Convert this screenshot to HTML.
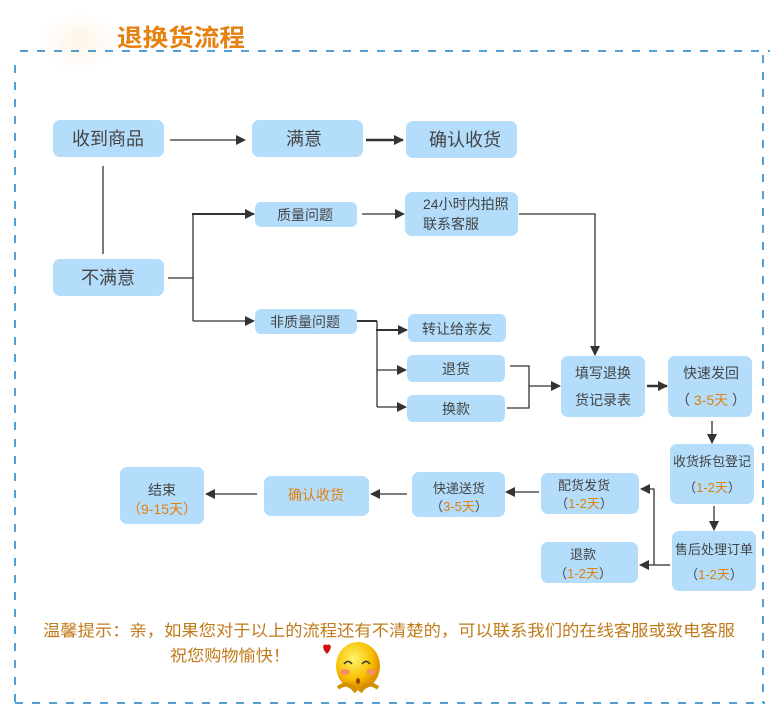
<!DOCTYPE html>
<html><head><meta charset="utf-8"><style>
html,body{margin:0;padding:0;background:#fff;width:780px;height:713px;overflow:hidden}
svg text{font-family:"Liberation Sans","Noto Sans CJK SC",sans-serif}
</style></head><body>
<svg width="780" height="713" viewBox="0 0 780 713" xmlns="http://www.w3.org/2000/svg">
<defs>
<marker id="a" viewBox="0 0 10 10" refX="9" refY="5" markerWidth="10" markerHeight="10" markerUnits="userSpaceOnUse" orient="auto"><path d="M0,0L10,5L0,10z" fill="#333"/></marker>
<radialGradient id="g" cx="0.5" cy="0.5" r="0.5"><stop offset="0" stop-color="#fff3e6"/><stop offset="1" stop-color="#fff"/></radialGradient>
<radialGradient id="f" cx="0.4" cy="0.35" r="0.6"><stop offset="0" stop-color="#fff36a"/><stop offset="0.7" stop-color="#f7c000"/><stop offset="1" stop-color="#e09000"/></radialGradient>
</defs>
<ellipse cx="80" cy="42" rx="40" ry="28" fill="url(#g)"/>
<text x="117" y="46" font-size="24" font-weight="bold" fill="#e6800f" textLength="128" lengthAdjust="spacingAndGlyphs">退换货流程</text>
<!-- border -->
<line x1="20" y1="51" x2="770" y2="51" stroke="#1a7fc4" stroke-width="1.5" stroke-dasharray="8,9"/>
<line x1="15" y1="65" x2="15" y2="703" stroke="#1a7fc4" stroke-width="1.5" stroke-dasharray="8,9"/>
<line x1="15" y1="703" x2="765" y2="703" stroke="#1a7fc4" stroke-width="1.5" stroke-dasharray="8,9"/>
<line x1="763" y1="55" x2="763" y2="703" stroke="#1a7fc4" stroke-width="1.5" stroke-dasharray="8,9"/>

<g fill="#b3ddfa">
<rect x="53" y="120" width="111" height="37" rx="7"/>
<rect x="252" y="120" width="111" height="37" rx="7"/>
<rect x="406" y="121" width="111" height="37" rx="7"/>
<rect x="53" y="259" width="111" height="37" rx="7"/>
<rect x="255" y="202" width="102" height="25" rx="6"/>
<rect x="405" y="192" width="113" height="44" rx="7"/>
<rect x="255" y="309" width="102" height="25" rx="6"/>
<rect x="408" y="314" width="98" height="28" rx="6"/>
<rect x="407" y="355" width="98" height="27" rx="6"/>
<rect x="407" y="395" width="98" height="27" rx="6"/>
<rect x="561" y="356" width="84" height="61" rx="7"/>
<rect x="668" y="356" width="84" height="61" rx="7"/>
<rect x="670" y="444" width="84" height="60" rx="7"/>
<rect x="672" y="531" width="84" height="60" rx="7"/>
<rect x="541" y="473" width="98" height="41" rx="7"/>
<rect x="541" y="542" width="97" height="41" rx="7"/>
<rect x="412" y="472" width="93" height="45" rx="7"/>
<rect x="264" y="476" width="105" height="40" rx="7"/>
<rect x="120" y="467" width="84" height="57" rx="7"/>
</g>

<g fill="#444" text-anchor="middle">
<text x="108" y="145" font-size="18">收到商品</text>
<text x="304" y="145" font-size="18">满意</text>
<text x="465" y="146" font-size="18">确认收货</text>
<text x="108" y="284" font-size="18">不满意</text>
<text x="305" y="220" font-size="14">质量问题</text>
<text x="305" y="327" font-size="14">非质量问题</text>
<text x="423" y="209" font-size="14" text-anchor="start">24小时内拍照</text>
<text x="423" y="229" font-size="14" text-anchor="start">联系客服</text>
<text x="457" y="334" font-size="14">转让给亲友</text>
<text x="456" y="374" font-size="14">退货</text>
<text x="456" y="414" font-size="14">换款</text>
<text x="603" y="378" font-size="14">填写退换</text>
<text x="603" y="405" font-size="14">货记录表</text>
<text x="711" y="378" font-size="14">快速发回</text>
<text x="712" y="466" font-size="13">收货拆包登记</text>
<text x="714" y="554" font-size="13">售后处理订单</text>
<text x="584" y="490" font-size="13">配货发货</text>
<text x="583" y="559" font-size="13">退款</text>
<text x="459" y="493" font-size="13">快递送货</text>
<text x="162" y="495" font-size="14">结束</text>
<text x="711" y="405" font-size="14">（ <tspan fill="#e0800f">3-5天</tspan> ）</text>
<text x="712" y="492" font-size="13">（<tspan fill="#e0800f">1-2天</tspan>）</text>
<text x="714" y="579" font-size="13">（<tspan fill="#e0800f">1-2天</tspan>）</text>
<text x="584" y="508" font-size="13">（<tspan fill="#e0800f">1-2天</tspan>）</text>
<text x="583" y="578" font-size="13">（<tspan fill="#e0800f">1-2天</tspan>）</text>
<text x="459" y="511" font-size="13">（<tspan fill="#e0800f">3-5天</tspan>）</text>
<text x="162" y="514" font-size="14" fill="#e0800f">（9-15天）</text>
<text x="316" y="500" font-size="14" fill="#e0800f">确认收货</text>
</g>

<g stroke="#333" stroke-width="1.3" fill="none">
<line x1="170" y1="140" x2="245" y2="140" marker-end="url(#a)"/>
<line x1="366" y1="140" x2="403" y2="140" stroke-width="2.5" marker-end="url(#a)"/>
<line x1="103" y1="166" x2="103" y2="254"/>
<line x1="168" y1="278" x2="193" y2="278"/>
<line x1="193" y1="213" x2="193" y2="321"/>
<line x1="192" y1="214" x2="254" y2="214" stroke-width="2" marker-end="url(#a)"/>
<line x1="193" y1="321" x2="254" y2="321" marker-end="url(#a)"/>
<line x1="362" y1="214" x2="404" y2="214" marker-end="url(#a)"/>
<polyline points="519,214 595,214 595,355" marker-end="url(#a)"/>
<line x1="357" y1="321" x2="377" y2="321" stroke-width="2"/>
<line x1="377" y1="321" x2="377" y2="407"/>
<line x1="376" y1="330" x2="407" y2="330" stroke-width="2" marker-end="url(#a)"/>
<line x1="377" y1="370" x2="406" y2="370" marker-end="url(#a)"/>
<line x1="377" y1="407" x2="406" y2="407" marker-end="url(#a)"/>
<polyline points="510,366 529,366 529,408 507,408"/>
<line x1="529" y1="386" x2="560" y2="386" marker-end="url(#a)"/>
<line x1="647" y1="386" x2="667" y2="386" stroke-width="2.5" marker-end="url(#a)"/>
<line x1="712" y1="421" x2="712" y2="443" marker-end="url(#a)"/>
<line x1="714" y1="506" x2="714" y2="530" marker-end="url(#a)"/>
<line x1="670" y1="565" x2="654" y2="565"/>
<polyline points="654,565 654,489 641,489" marker-end="url(#a)"/>
<line x1="654" y1="565" x2="640" y2="565" marker-end="url(#a)"/>
<line x1="539" y1="492" x2="506" y2="492" marker-end="url(#a)"/>
<line x1="407" y1="494" x2="371" y2="494" marker-end="url(#a)"/>
<line x1="257" y1="494" x2="206" y2="494" marker-end="url(#a)"/>
</g>

<text x="43" y="636" font-size="16" fill="#c07a1a" textLength="692" lengthAdjust="spacingAndGlyphs">温馨提示：亲，如果您对于以上的流程还有不清楚的，可以联系我们的在线客服或致电客服</text>
<text x="170" y="661" font-size="16" fill="#c07a1a" textLength="120" lengthAdjust="spacingAndGlyphs">祝您购物愉快！</text>
<path d="M327,654 c-6,-6 -4,-11 0,-9 c4,-2 6,3 0,9z" fill="#d01010"/>
<ellipse cx="358" cy="666" rx="22" ry="24" fill="url(#f)"/>
<ellipse cx="345" cy="672" rx="5" ry="3" fill="#f59060"/>
<ellipse cx="371" cy="672" rx="5" ry="3" fill="#f59060"/>
<path d="M344,664 q4,-5 8,0 M362,664 q4,-5 8,0" stroke="#333" stroke-width="1.5" fill="none"/>
<ellipse cx="358" cy="681" rx="2" ry="3" fill="#a04000"/>
<path d="M338,688 q10,-8 18,4 M378,688 q-10,-8 -18,4" stroke="#d09000" stroke-width="4" fill="none"/>
</svg>
</body></html>
